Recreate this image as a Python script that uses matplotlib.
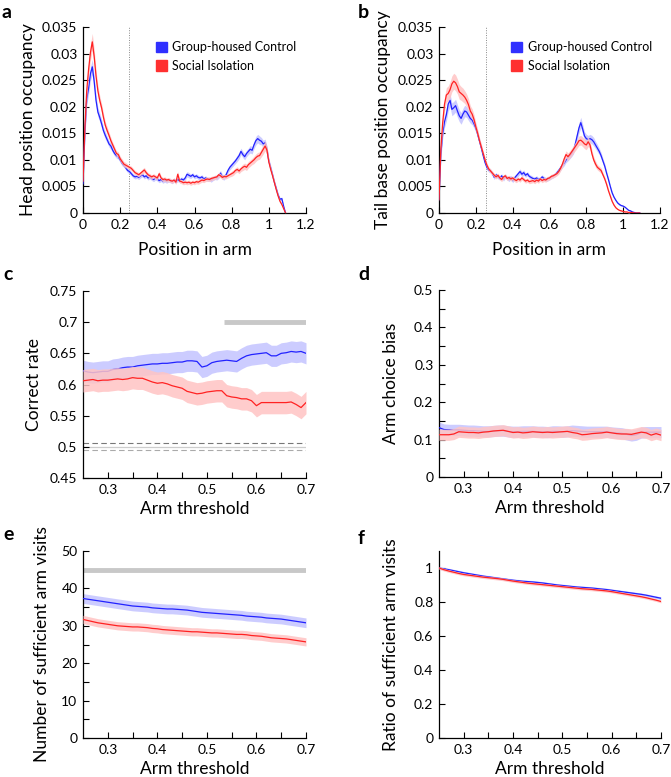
import numpy as np
import matplotlib
matplotlib.use("Agg")
import matplotlib.pyplot as plt
from matplotlib.patches import Patch

plt.rcParams['font.family'] = ['Lato', 'DejaVu Sans']

# ---------------- data ----------------
pos = np.round(np.arange(0, 110) * 0.01, 2)

head_ctrl = [0.0055, 0.0150, 0.0215, 0.0235, 0.0262, 0.0275, 0.0248, 0.0212, 0.0190, 0.0180,
             0.0168, 0.0155, 0.0146, 0.0138, 0.0130, 0.0126, 0.0118, 0.0112, 0.0108, 0.0106,
             0.0100, 0.0094, 0.0090, 0.0085, 0.0080, 0.0078, 0.0074, 0.0070, 0.0068, 0.0069,
             0.0067, 0.0070, 0.0072, 0.0068, 0.0070, 0.0066, 0.0068, 0.0065, 0.0063, 0.0066,
             0.0064, 0.0061, 0.0063, 0.0060, 0.0062, 0.0060, 0.0062, 0.0061, 0.0059, 0.0062,
             0.0060, 0.0063, 0.0061, 0.0064, 0.0062, 0.0066, 0.0073, 0.0071, 0.0069, 0.0072,
             0.0068, 0.0070, 0.0067, 0.0066, 0.0068, 0.0064, 0.0066, 0.0063, 0.0064, 0.0062,
             0.0065, 0.0067, 0.0066, 0.0070, 0.0075, 0.0068, 0.0067, 0.0072, 0.0080, 0.0086,
             0.0090, 0.0094, 0.0098, 0.0103, 0.0108, 0.0116, 0.0110, 0.0106, 0.0112, 0.0116,
             0.0120, 0.0118, 0.0128, 0.0136, 0.0140, 0.0137, 0.0135, 0.0130, 0.0132, 0.0120,
             0.0098, 0.0085, 0.0072, 0.0058, 0.0046, 0.0034, 0.0026, 0.0027, 0.0012, 0.0000]
head_ctrl_sem = [5, 10, 12, 12, 13, 14, 12, 10, 9, 8,
                 8, 7, 7, 6, 6, 6, 5, 5, 5, 5,
                 5, 5, 4, 4, 4, 4, 4, 4, 4, 4,
                 4, 4, 4, 4, 4, 4, 4, 4, 4, 4,
                 4, 4, 4, 4, 4, 4, 4, 4, 4, 4,
                 4, 4, 4, 4, 4, 4, 5, 5, 4, 4,
                 4, 4, 4, 4, 4, 4, 4, 4, 4, 4,
                 4, 4, 4, 5, 5, 5, 5, 5, 5, 5,
                 5, 5, 5, 6, 6, 6, 6, 6, 6, 6,
                 7, 7, 7, 8, 8, 8, 7, 7, 7, 6,
                 5, 5, 4, 4, 4, 3, 3, 3, 2, 1]
head_iso = [0.0060, 0.0160, 0.0230, 0.0270, 0.0302, 0.0322, 0.0295, 0.0258, 0.0230, 0.0212,
            0.0198, 0.0180, 0.0165, 0.0155, 0.0146, 0.0136, 0.0128, 0.0120, 0.0112, 0.0110,
            0.0102, 0.0097, 0.0092, 0.0090, 0.0088, 0.0086, 0.0084, 0.0080, 0.0076, 0.0074,
            0.0072, 0.0075, 0.0078, 0.0081, 0.0076, 0.0072, 0.0070, 0.0068, 0.0070, 0.0068,
            0.0066, 0.0074, 0.0066, 0.0063, 0.0064, 0.0062, 0.0063, 0.0061, 0.0060, 0.0062,
            0.0058, 0.0073, 0.0060, 0.0059, 0.0057, 0.0058, 0.0057, 0.0058, 0.0056, 0.0058,
            0.0057, 0.0059, 0.0058, 0.0060, 0.0062, 0.0061, 0.0063, 0.0064, 0.0063, 0.0065,
            0.0066, 0.0067, 0.0068, 0.0072, 0.0070, 0.0067, 0.0069, 0.0068, 0.0070, 0.0072,
            0.0074, 0.0076, 0.0080, 0.0082, 0.0079, 0.0083, 0.0086, 0.0088, 0.0086, 0.0091,
            0.0094, 0.0097, 0.0100, 0.0104, 0.0107, 0.0108, 0.0114, 0.0120, 0.0126, 0.0118,
            0.0096, 0.0082, 0.0070, 0.0057, 0.0044, 0.0032, 0.0022, 0.0016, 0.0008, 0.0000]
head_iso_sem = [5, 10, 13, 14, 15, 16, 14, 12, 10, 9,
                8, 8, 7, 7, 6, 6, 5, 5, 5, 5,
                5, 5, 5, 5, 4, 4, 4, 4, 4, 4,
                4, 4, 5, 5, 4, 4, 4, 4, 4, 4,
                4, 5, 4, 4, 4, 4, 4, 4, 4, 4,
                4, 5, 4, 4, 4, 4, 4, 4, 4, 4,
                4, 4, 4, 4, 4, 4, 4, 4, 4, 4,
                4, 4, 4, 4, 4, 4, 4, 4, 4, 4,
                5, 5, 5, 5, 5, 5, 6, 6, 6, 6,
                6, 6, 7, 7, 7, 7, 8, 9, 9, 8,
                6, 5, 4, 4, 3, 3, 2, 2, 1, 1]

tail_ctrl = [0.0025, 0.0110, 0.0150, 0.0172, 0.0185, 0.0205, 0.0212, 0.0195, 0.0198, 0.0202,
             0.0192, 0.0183, 0.0178, 0.0186, 0.0192, 0.0190, 0.0184, 0.0178, 0.0175, 0.0168,
             0.0160, 0.0148, 0.0135, 0.0122, 0.0108, 0.0095, 0.0086, 0.0081, 0.0079, 0.0074,
             0.0067, 0.0072, 0.0068, 0.0066, 0.0070, 0.0064, 0.0069, 0.0066, 0.0063, 0.0067,
             0.0061, 0.0066, 0.0070, 0.0074, 0.0078, 0.0073, 0.0076, 0.0071, 0.0074, 0.0069,
             0.0067, 0.0065, 0.0064, 0.0066, 0.0063, 0.0064, 0.0068, 0.0065, 0.0063, 0.0064,
             0.0066, 0.0068, 0.0070, 0.0072, 0.0076, 0.0080, 0.0085, 0.0090, 0.0094, 0.0100,
             0.0104, 0.0108, 0.0112, 0.0118, 0.0130, 0.0145, 0.0160, 0.0170, 0.0158, 0.0145,
             0.0140, 0.0138, 0.0140, 0.0138, 0.0134, 0.0128, 0.0122, 0.0116, 0.0108, 0.0098,
             0.0088, 0.0075, 0.0063, 0.0050, 0.0038, 0.0030, 0.0024, 0.0019, 0.0016, 0.0014,
             0.0013, 0.0011, 0.0008, 0.0005, 0.0004, 0.0002, 0.0001, 0.0000, 0.0000, 0.0000]
tail_ctrl_sem = [4, 8, 10, 11, 12, 13, 13, 12, 12, 12,
                 12, 11, 11, 11, 11, 10, 10, 9, 9, 8,
                 8, 7, 6, 6, 5, 5, 5, 4, 4, 4,
                 4, 4, 4, 4, 4, 4, 4, 4, 4, 4,
                 4, 4, 4, 5, 5, 5, 5, 4, 4, 4,
                 4, 4, 4, 4, 4, 4, 4, 4, 4, 4,
                 4, 4, 4, 4, 4, 5, 5, 5, 5, 5,
                 6, 6, 6, 7, 8, 9, 10, 10, 9, 8,
                 8, 8, 8, 8, 8, 7, 7, 6, 6, 5,
                 5, 4, 4, 3, 3, 2, 2, 2, 2, 1,
                 1, 1, 1, 1, 1, 1, 0, 0, 0, 0]
tail_iso = [0.0025, 0.0120, 0.0170, 0.0205, 0.0222, 0.0225, 0.0232, 0.0243, 0.0248, 0.0245,
            0.0238, 0.0228, 0.0225, 0.0222, 0.0218, 0.0212, 0.0204, 0.0192, 0.0186, 0.0176,
            0.0162, 0.0150, 0.0136, 0.0124, 0.0112, 0.0100, 0.0090, 0.0083, 0.0079, 0.0075,
            0.0071, 0.0068, 0.0071, 0.0066, 0.0063, 0.0068, 0.0070, 0.0065, 0.0067, 0.0064,
            0.0066, 0.0063, 0.0061, 0.0064, 0.0062, 0.0066, 0.0063, 0.0060, 0.0062, 0.0059,
            0.0060, 0.0061, 0.0059, 0.0062, 0.0060, 0.0064, 0.0061, 0.0063, 0.0062, 0.0065,
            0.0066, 0.0069, 0.0070, 0.0072, 0.0074, 0.0078, 0.0084, 0.0092, 0.0102, 0.0110,
            0.0106, 0.0110, 0.0115, 0.0120, 0.0125, 0.0130, 0.0136, 0.0137, 0.0134, 0.0130,
            0.0128, 0.0134, 0.0128, 0.0112, 0.0100, 0.0092, 0.0086, 0.0083, 0.0080, 0.0072,
            0.0064, 0.0054, 0.0042, 0.0032, 0.0022, 0.0015, 0.0010, 0.0007, 0.0005, 0.0004,
            0.0003, 0.0002, 0.0002, 0.0001, 0.0001, 0.0001, 0.0000, 0.0000, 0.0000, 0.0000]
tail_iso_sem = [4, 9, 12, 13, 14, 14, 15, 15, 15, 15,
                14, 14, 13, 13, 12, 12, 11, 10, 10, 9,
                8, 7, 6, 6, 5, 5, 5, 4, 4, 4,
                4, 4, 4, 4, 4, 4, 4, 4, 4, 4,
                4, 4, 4, 4, 4, 4, 4, 4, 4, 4,
                4, 4, 4, 4, 4, 4, 4, 4, 4, 4,
                4, 4, 4, 4, 4, 5, 5, 6, 7, 7,
                7, 7, 7, 7, 8, 8, 9, 9, 9, 9,
                9, 9, 8, 7, 6, 6, 5, 5, 5, 4,
                4, 4, 3, 3, 2, 2, 1, 1, 1, 1,
                1, 1, 1, 1, 0, 0, 0, 0, 0, 0]
head_cut = 0.25
tail_cut = 0.255

pos_ticks = [0, 0.2, 0.4, 0.6, 0.8, 1.0, 1.2]
pos_ticklabels = ['0', '0.2', '0.4', '0.6', '0.8', '1', '1.2']
occ_ticks = [0, 0.005, 0.01, 0.015, 0.02, 0.025, 0.03, 0.035]
occ_ticklabels = ['0', '0.005', '0.01', '0.015', '0.02', '0.025', '0.03', '0.035']

thr = np.round(np.arange(25, 71) * 0.01, 2)

cr_ctrl = [0.622, 0.620, 0.619, 0.620, 0.621, 0.621, 0.624, 0.625, 0.627, 0.628,
           0.628, 0.630, 0.631, 0.632, 0.633, 0.633, 0.634, 0.634, 0.635, 0.636,
           0.636, 0.638, 0.638, 0.637, 0.628, 0.630, 0.635, 0.637, 0.638, 0.639,
           0.638, 0.637, 0.642, 0.646, 0.648, 0.649, 0.650, 0.651, 0.646, 0.646,
           0.650, 0.651, 0.653, 0.652, 0.653, 0.650]
cr_iso = [0.606, 0.607, 0.608, 0.606, 0.607, 0.607, 0.608, 0.609, 0.608, 0.609,
          0.611, 0.610, 0.610, 0.607, 0.604, 0.602, 0.603, 0.601, 0.598, 0.596,
          0.594, 0.589, 0.587, 0.585, 0.586, 0.588, 0.589, 0.590, 0.590, 0.582,
          0.580, 0.579, 0.577, 0.577, 0.574, 0.566, 0.571, 0.571, 0.571, 0.571,
          0.571, 0.571, 0.572, 0.568, 0.563, 0.571]
cr_ctrl_sem = 0.017
cr_iso_sem = 0.018
cr_sig = [0.535, 0.70]
cr_sig_y = 0.70
chance = 0.5
chance_ci = [0.4945, 0.5055]

bias_ctrl = [0.132, 0.127, 0.126, 0.126, 0.126, 0.125, 0.124, 0.124, 0.123, 0.122,
             0.122, 0.123, 0.124, 0.124, 0.122, 0.121, 0.121, 0.122, 0.122, 0.122,
             0.121, 0.121, 0.120, 0.122, 0.122, 0.121, 0.122, 0.124, 0.123, 0.122,
             0.121, 0.121, 0.121, 0.121, 0.121, 0.119, 0.118, 0.117, 0.114, 0.111,
             0.113, 0.119, 0.120, 0.120, 0.120, 0.120]
bias_iso = [0.113, 0.113, 0.113, 0.115, 0.121, 0.120, 0.119, 0.119, 0.118, 0.120,
            0.121, 0.123, 0.124, 0.125, 0.122, 0.119, 0.120, 0.118, 0.119, 0.121,
            0.120, 0.119, 0.120, 0.119, 0.120, 0.121, 0.122, 0.119, 0.117, 0.113,
            0.114, 0.116, 0.117, 0.118, 0.120, 0.118, 0.116, 0.115, 0.115, 0.114,
            0.117, 0.120, 0.118, 0.112, 0.116, 0.112]
bias_ctrl_sem = 0.015
bias_iso_sem = 0.015

nvis_ctrl = [37.3, 37.1, 36.9, 36.7, 36.5, 36.3, 36.1, 35.9, 35.7, 35.5,
             35.3, 35.2, 35.1, 35.0, 34.8, 34.7, 34.6, 34.5, 34.5, 34.4,
             34.3, 34.2, 34.0, 33.8, 33.6, 33.5, 33.4, 33.3, 33.2, 33.1,
             33.0, 32.9, 32.8, 32.6, 32.5, 32.4, 32.3, 32.1, 32.0, 31.9,
             31.8, 31.6, 31.4, 31.2, 31.0, 30.8]
nvis_iso = [31.7, 31.4, 31.1, 30.8, 30.6, 30.4, 30.2, 30.0, 29.9, 29.8,
            29.7, 29.7, 29.6, 29.5, 29.3, 29.2, 29.0, 28.9, 28.8, 28.7,
            28.6, 28.5, 28.4, 28.4, 28.3, 28.2, 28.1, 28.1, 28.0, 27.9,
            27.8, 27.7, 27.7, 27.6, 27.4, 27.3, 27.2, 27.0, 26.8, 26.7,
            26.6, 26.5, 26.3, 26.1, 25.9, 25.7]
nvis_ctrl_sem = 1.3
nvis_iso_sem = 1.1
nvis_total = 45

ratio_ctrl = [1.000, 0.995, 0.990, 0.984, 0.978, 0.972, 0.967, 0.962, 0.957, 0.952,
              0.948, 0.944, 0.940, 0.936, 0.932, 0.928, 0.925, 0.922, 0.920, 0.918,
              0.915, 0.912, 0.908, 0.904, 0.900, 0.897, 0.894, 0.891, 0.888, 0.886,
              0.884, 0.882, 0.879, 0.876, 0.873, 0.869, 0.865, 0.861, 0.857, 0.853,
              0.849, 0.845, 0.840, 0.834, 0.828, 0.822]
ratio_iso = [1.000, 0.990, 0.982, 0.975, 0.968, 0.962, 0.958, 0.954, 0.950, 0.946,
             0.943, 0.940, 0.937, 0.933, 0.928, 0.923, 0.919, 0.915, 0.911, 0.908,
             0.905, 0.902, 0.899, 0.896, 0.893, 0.890, 0.887, 0.884, 0.881, 0.878,
             0.876, 0.874, 0.871, 0.868, 0.865, 0.861, 0.856, 0.851, 0.846, 0.841,
             0.836, 0.831, 0.825, 0.818, 0.811, 0.803]
ratio_sem = 0.008

labels = ["Group-housed Control", "Social Isolation"]

# ---------------- style ----------------
BLUE = '#2222ff'
RED = '#ff2222'
BLUE_F = '#c4c4ff'
RED_F = '#ffc4c4'
W, H = 671, 777
TICK_FS = 10
LAB_FS = 12.5

fig = plt.figure(figsize=(W / 100, H / 100), dpi=100)


def ax_at(l, r, t, b):
    return fig.add_axes([l / W, 1 - b / H, (r - l) / W, (b - t) / H])


def style(ax):
    for s in ['top', 'right']:
        ax.spines[s].set_visible(False)
    for s in ['left', 'bottom']:
        ax.spines[s].set_linewidth(0.9)
    ax.tick_params(direction='in', length=4, width=0.8, labelsize=TICK_FS, pad=4,
                   which='both')


def band(ax, x, y, s, lc, fc, scale=1.0, z=2):
    y = np.asarray(y, float)
    s = np.asarray(s, float) * scale
    ax.fill_between(x, y - s, y + s, color=fc, lw=0, zorder=z, alpha=0.85)
    ax.plot(x, y, color=lc, lw=0.9, zorder=z + 1)


def letter(x, y, t):
    fig.text(x / W, 1 - y / H, t, fontsize=14, fontweight='bold',
             ha='left', va='center')


def legend(ax):
    ax.legend(handles=[Patch(color='#3030ff'), Patch(color='#ff3030')], labels=labels,
              loc='upper left', bbox_to_anchor=(0.275, 0.985), frameon=False,
              fontsize=9, handlelength=0.9, handleheight=0.9, handletextpad=0.45,
              labelspacing=0.55)


def occ_axis(ax):
    ax.set_xlim(0, 1.2)
    ax.set_ylim(0, 0.035)
    ax.set_xticks(pos_ticks)
    ax.set_xticklabels(pos_ticklabels)
    ax.set_yticks(occ_ticks)
    ax.set_yticklabels(occ_ticklabels)
    ax.set_xlabel('Position in arm', fontsize=LAB_FS, labelpad=8)


# panel a
ax = ax_at(83, 306, 27, 213)
style(ax)
ax.axvline(head_cut, color='#888888', lw=0.7, ls=(0, (1, 1.5)), zorder=1)
band(ax, pos, head_ctrl, head_ctrl_sem, BLUE, BLUE_F, 1e-4)
band(ax, pos, head_iso, head_iso_sem, RED, RED_F, 1e-4, z=4)
occ_axis(ax)
ax.set_ylabel('Head position occupancy', fontsize=LAB_FS, labelpad=4)
legend(ax)
letter(2, 12, 'a')

# panel b
ax = ax_at(439, 660, 27, 213)
style(ax)
ax.axvline(tail_cut, color='#888888', lw=0.7, ls=(0, (1, 1.5)), zorder=1)
band(ax, pos, tail_ctrl, tail_ctrl_sem, BLUE, BLUE_F, 1e-4)
band(ax, pos, tail_iso, tail_iso_sem, RED, RED_F, 1e-4, z=4)
occ_axis(ax)
ax.set_ylabel('Tail base position occupancy', fontsize=LAB_FS, labelpad=5)
legend(ax)
letter(358, 12, 'b')


def thr_axis(ax):
    ax.set_xlim(0.25, 0.7)
    ax.set_xticks([0.3, 0.4, 0.5, 0.6, 0.7])
    ax.set_xticklabels(['0.3', '0.4', '0.5', '0.6', '0.7'])
    ax.set_xticks([0.35, 0.45, 0.55, 0.65], minor=True)
    ax.set_xlabel('Arm threshold', fontsize=LAB_FS, labelpad=4)


# panel c
ax = ax_at(83, 306, 291, 478)
style(ax)
ax.axhline(chance, color='#cccccc', lw=0.9, zorder=1)
ax.axhline(chance_ci[1], color='#777777', lw=0.8, ls=(0, (5, 3)), zorder=1)
ax.axhline(chance_ci[0], color='#aaaaaa', lw=0.8, ls=(0, (5, 3)), zorder=1)
ax.plot(cr_sig, [cr_sig_y, cr_sig_y], color='#c8c8c8', lw=3.5, solid_capstyle='butt')
band(ax, thr, cr_ctrl, cr_ctrl_sem, BLUE, BLUE_F)
band(ax, thr, cr_iso, cr_iso_sem, RED, RED_F, z=4)
thr_axis(ax)
ax.set_ylim(0.45, 0.75)
ax.set_yticks([0.45, 0.5, 0.55, 0.6, 0.65, 0.7, 0.75])
ax.set_yticklabels(['0.45', '0.5', '0.55', '0.6', '0.65', '0.7', '0.75'])
ax.set_ylabel('Correct rate', fontsize=LAB_FS, labelpad=6)
letter(3, 275, 'c')

# panel d
ax = ax_at(439, 661, 290, 477)
style(ax)
band(ax, thr, bias_ctrl, bias_ctrl_sem, BLUE, BLUE_F)
band(ax, thr, bias_iso, bias_iso_sem, RED, RED_F, z=4)
thr_axis(ax)
ax.set_ylim(0, 0.5)
ax.set_yticks([0, 0.1, 0.2, 0.3, 0.4, 0.5])
ax.set_yticklabels(['0', '0.1', '0.2', '0.3', '0.4', '0.5'])
ax.set_yticks([0.05, 0.15, 0.25, 0.35, 0.45], minor=True)
ax.set_ylabel('Arm choice bias', fontsize=LAB_FS, labelpad=11)
letter(358, 275, 'd')

# panel e
ax = ax_at(83, 306, 551, 738)
style(ax)
ax.plot([0.25, 0.7], [nvis_total, nvis_total], color='#c8c8c8', lw=3.5,
        solid_capstyle='butt')
band(ax, thr, nvis_ctrl, nvis_ctrl_sem, BLUE, BLUE_F)
band(ax, thr, nvis_iso, nvis_iso_sem, RED, RED_F, z=4)
thr_axis(ax)
ax.set_ylim(0, 50)
ax.set_yticks([0, 10, 20, 30, 40, 50])
ax.set_yticks([5, 15, 25, 35, 45], minor=True)
ax.set_ylabel('Number of sufficient arm visits', fontsize=LAB_FS, labelpad=8)
letter(3, 535, 'e')

# panel f
ax = ax_at(439, 661, 551, 738)
style(ax)
band(ax, thr, ratio_ctrl, ratio_sem, BLUE, BLUE_F)
band(ax, thr, ratio_iso, ratio_sem, RED, RED_F, z=4)
thr_axis(ax)
ax.set_ylim(0, 1.1)
ax.set_yticks([0, 0.2, 0.4, 0.6, 0.8, 1.0])
ax.set_yticklabels(['0', '0.2', '0.4', '0.6', '0.8', '1'])
ax.set_ylabel('Ratio of sufficient arm visits', fontsize=LAB_FS, labelpad=11)
letter(358, 538, 'f')

fig.savefig('out.png', dpi=100)
